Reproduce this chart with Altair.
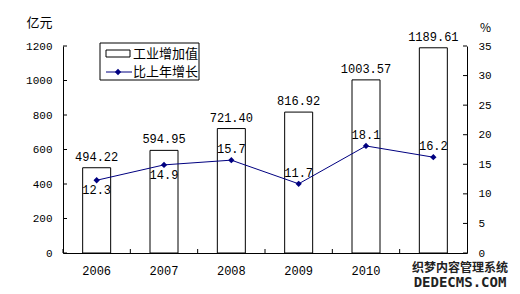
import altair as alt
import pandas as pd

years = ["2006", "2007", "2008", "2009", "2010", "2011"]
value_added = [494.22, 594.95, 721.40, 816.92, 1003.57, 1189.61]
growth = [12.3, 14.9, 15.7, 11.7, 18.1, 16.2]
label_below = [True, True, False, False, False, False]
left_ticks = [0, 200, 400, 600, 800, 1000, 1200]
right_ticks = [0, 5, 10, 15, 20, 25, 30, 35]
legend_labels = ["工业增加值", "比上年增长"]

NUM_FONT = "Liberation Mono"
CJK_FONT = "Noto Sans CJK SC"
NAVY = "#000080"
W, H = 404, 207

df = pd.DataFrame({
    "year": years,
    "va": value_added,
    "g": growth,
    "below": label_below,
    "va_text": [f"{v:.2f}" for v in value_added],
    "g_text": [f"{v:.1f}" for v in growth],
})
lt = pd.DataFrame({"t": left_ticks})
rt = pd.DataFrame({"t": right_ticks})
leg = pd.DataFrame({"label": legend_labels})

xscale = alt.Scale(domain=years, paddingInner=0, paddingOuter=0)
xaxis = alt.Axis(title=None, ticks=False, domainColor="black", labelColor="black",
                 labelFont=NUM_FONT, labelFontSize=12, labelPadding=12, labelAngle=0,
                 labelExpr="datum.label == '2011' ? '' : datum.label")
X = alt.X("year:N", scale=xscale, axis=xaxis)

lscale = alt.Scale(domain=[0, 1200], nice=False)
laxis = alt.Axis(values=left_ticks, format="d", ticks=False, grid=False, domainColor="black",
                 labelColor="black", labelFont=NUM_FONT, labelFontSize=11, labelPadding=11,
                 title="亿元", titleAngle=0, titleX=-24, titleY=-24, titleAlign="center",
                 titleBaseline="middle", titleFont=CJK_FONT, titleFontSize=13,
                 titleFontWeight="normal", titleColor="black")
rscale = alt.Scale(domain=[0, 35], nice=False)
raxis = alt.Axis(orient="right", values=right_ticks, format="d", ticks=False, grid=False,
                 domainColor="black", labelColor="black", labelFont=NUM_FONT,
                 labelFontSize=11, labelPadding=11,
                 title="%", titleAngle=0, titleX=18, titleY=-19, titleAlign="center",
                 titleBaseline="middle", titleFont=CJK_FONT, titleFontSize=12,
                 titleFontWeight="normal", titleColor="black")

base = alt.Chart(df)

bars = base.mark_bar(fill="white", stroke="black", strokeWidth=1, size=28).encode(
    x=X, y=alt.Y("va:Q", scale=lscale, axis=laxis))
bar_labels = base.mark_text(baseline="bottom", dy=-4, font=NUM_FONT, fontSize=12,
                            color="black").encode(
    x=X, y=alt.Y("va:Q", scale=lscale, axis=laxis), text="va_text:N")
left_tick_marks = alt.Chart(lt).mark_rule(color="black", strokeWidth=1).encode(
    y=alt.Y("t:Q", scale=lscale, axis=laxis), x=alt.value(0), x2=alt.value(4))
x_tick_marks = base.mark_rule(color="black", strokeWidth=1).encode(
    x=alt.X("year:N", scale=xscale, axis=xaxis, bandPosition=0),
    y=alt.value(H), y2=alt.value(H - 4))

# legend (annotation)
leg_box = alt.Chart(leg).transform_filter("datum.label == '工业增加值'").mark_rect(
    fill="white", stroke="black", strokeWidth=1).encode(
    x=alt.value(37), x2=alt.value(136), y=alt.value(-3), y2=alt.value(34))
leg_rect = alt.Chart(leg).transform_filter("datum.label == '工业增加值'").mark_rect(
    fill="white", stroke="black", strokeWidth=1).encode(
    x=alt.value(43), x2=alt.value(67), y=alt.value(4), y2=alt.value(11))
leg_line = alt.Chart(leg).transform_filter("datum.label == '比上年增长'").mark_rule(
    color=NAVY, strokeWidth=1).encode(
    x=alt.value(43), x2=alt.value(69), y=alt.value(26))
leg_pt = alt.Chart(leg).transform_filter("datum.label == '比上年增长'").mark_point(
    shape="diamond", filled=True, size=40, color=NAVY, opacity=1).encode(
    x=alt.value(55), y=alt.value(26))
leg_text1 = alt.Chart(leg).transform_filter("datum.label == '工业增加值'").mark_text(
    align="left", baseline="middle", font=CJK_FONT, fontSize=13, color="black").encode(
    x=alt.value(70), y=alt.value(8), text="label:N")
leg_text2 = alt.Chart(leg).transform_filter("datum.label == '比上年增长'").mark_text(
    align="left", baseline="middle", font=CJK_FONT, fontSize=13, color="black").encode(
    x=alt.value(70), y=alt.value(26), text="label:N")

# watermark
wm1 = alt.Chart(leg).transform_filter("datum.label == '工业增加值'").mark_text(
    align="center", baseline="middle", font=CJK_FONT, fontSize=12, fontWeight="bold",
    color="#222222", text="织梦内容管理系统").encode(x=alt.value(397), y=alt.value(222))
wm2 = alt.Chart(leg).transform_filter("datum.label == '工业增加值'").mark_text(
    align="center", baseline="middle", font="DejaVu Sans Mono", fontSize=14,
    fontWeight="bold", color="#222222", text="DEDECMS.COM").encode(
    x=alt.value(397), y=alt.value(237))

left = alt.layer(bars, bar_labels, left_tick_marks, x_tick_marks, leg_box, leg_rect,
                 leg_line, leg_pt, leg_text1, leg_text2, wm1, wm2)

line = base.mark_line(color=NAVY, strokeWidth=1).encode(
    x=X, y=alt.Y("g:Q", scale=rscale, axis=raxis))
points = base.mark_point(shape="diamond", filled=True, size=40, color=NAVY,
                         opacity=1).encode(x=X, y=alt.Y("g:Q", scale=rscale, axis=raxis))
lab_below = base.transform_filter("datum.below").mark_text(
    baseline="middle", dy=10, font=NUM_FONT, fontSize=12, color="black").encode(
    x=X, y=alt.Y("g:Q", scale=rscale, axis=raxis), text="g_text:N")
lab_above = base.transform_filter("!datum.below").mark_text(
    baseline="middle", dy=-11, font=NUM_FONT, fontSize=12, color="black").encode(
    x=X, y=alt.Y("g:Q", scale=rscale, axis=raxis), text="g_text:N")
right_tick_marks = alt.Chart(rt).mark_rule(color="black", strokeWidth=1).encode(
    y=alt.Y("t:Q", scale=rscale, axis=raxis), x=alt.value(W), x2=alt.value(W - 4))

right = alt.layer(line, points, lab_below, lab_above, right_tick_marks)

chart = alt.layer(left, right).resolve_scale(y="independent").properties(
    width=W, height=H,
    autosize=alt.AutoSizeParams(type="none"),
    padding={"left": 63, "top": 46, "right": 53, "bottom": 41},
    background="white",
).configure_view(stroke=None)

chart.save("out.html", embed_options={"renderer": "svg", "actions": False})
